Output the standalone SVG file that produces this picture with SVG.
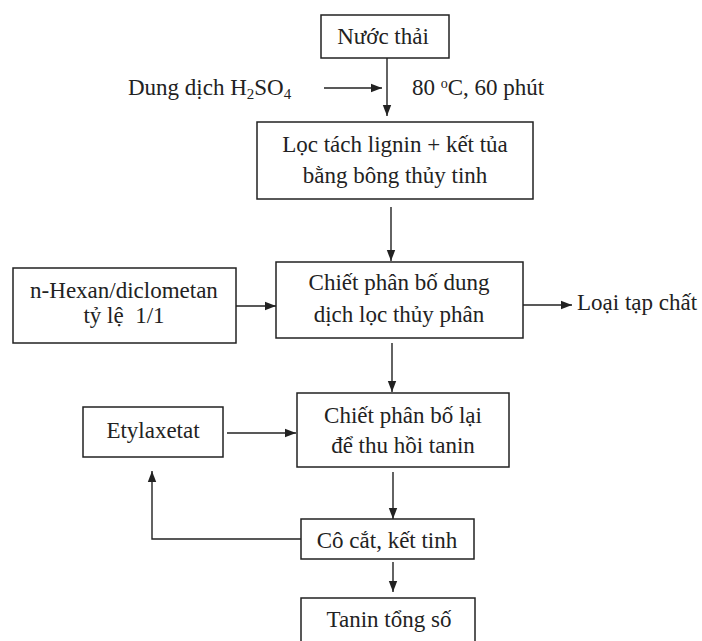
<svg xmlns="http://www.w3.org/2000/svg" width="702" height="641" viewBox="0 0 702 641">
<style>
.box{fill:#fff;stroke:#222;stroke-width:1.5}
.t{font-family:"Liberation Serif","Times New Roman",serif;font-size:23px;fill:#222;text-anchor:middle}
.l{text-anchor:start}
.c{fill:none;stroke:#222;stroke-width:1.4}
</style>
<defs>
<marker id="ah" markerUnits="userSpaceOnUse" markerWidth="12" markerHeight="10" refX="11" refY="5" orient="auto">
<path d="M0,0.8 L11,5 L0,9.2 Z" fill="#222"/>
</marker>
</defs>
<rect width="702" height="641" fill="#fff"/>
<g id="connectors">
<path class="c" d="M387,58 V116" marker-end="url(#ah)"/>
<path class="c" d="M324,88 H382" marker-end="url(#ah)"/>
<path class="c" d="M391,207 V261" marker-end="url(#ah)"/>
<path class="c" d="M236,306 H276" marker-end="url(#ah)"/>
<path class="c" d="M523,305 H572" marker-end="url(#ah)"/>
<path class="c" d="M392,343 V392" marker-end="url(#ah)"/>
<path class="c" d="M227,433 H296" marker-end="url(#ah)"/>
<path class="c" d="M393,472 V519" marker-end="url(#ah)"/>
<path class="c" d="M393,562 V592" marker-end="url(#ah)"/>
<path class="c" d="M301,539 H152 V471" marker-end="url(#ah)"/>
</g>
<g id="nuoc-thai">
<rect class="box" x="321" y="15" width="128" height="43"/>
<text class="t" x="383" y="44">Nước thải</text>
</g>
<g id="h2so4">
<text class="t l" x="128" y="95">Dung dịch H<tspan font-size="15" dy="4">2</tspan><tspan dy="-4">SO</tspan><tspan font-size="15" dy="4">4</tspan></text>
</g>
<g id="dieu-kien">
<text class="t l" x="412" y="95">80 <tspan font-size="14" dy="-7">o</tspan><tspan dy="7">C, 60 phút</tspan></text>
</g>
<g id="loc-tach">
<rect class="box" x="257" y="122" width="276" height="77"/>
<text class="t" x="395" y="152">Lọc tách lignin + kết tủa</text>
<text class="t" x="395" y="183">bằng bông thủy tinh</text>
</g>
<g id="hexan">
<rect class="box" x="13" y="268" width="223" height="75"/>
<text class="t" x="124" y="298">n-Hexan/diclometan</text>
<text class="t" x="124" y="323">tỷ lệ&#160; 1/1</text>
</g>
<g id="chiet-phan-bo">
<rect class="box" x="276" y="262" width="247" height="76"/>
<text class="t" x="399" y="290">Chiết phân bố dung</text>
<text class="t" x="399" y="322">dịch lọc thủy phân</text>
</g>
<g id="loai-tap-chat">
<text class="t l" x="577" y="310">Loại tạp chất</text>
</g>
<g id="etylaxetat">
<rect class="box" x="83" y="407" width="140" height="50"/>
<text class="t" x="153" y="438">Etylaxetat</text>
</g>
<g id="chiet-lai">
<rect class="box" x="297" y="393" width="212" height="74"/>
<text class="t" x="403" y="423">Chiết phân bố lại</text>
<text class="t" x="403" y="453">để thu hồi tanin</text>
</g>
<g id="co-cat">
<rect class="box" x="301" y="519" width="173" height="40"/>
<text class="t" x="387" y="548">Cô cắt, kết tinh</text>
</g>
<g id="tanin">
<rect class="box" x="301" y="598" width="174" height="50"/>
<text class="t" x="389" y="627">Tanin tổng số</text>
</g>
</svg>
